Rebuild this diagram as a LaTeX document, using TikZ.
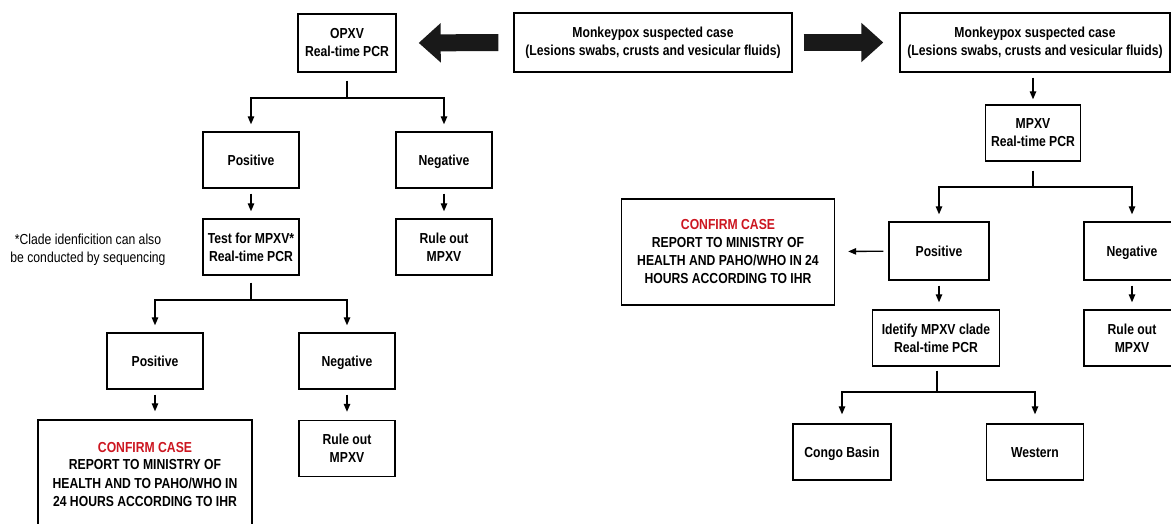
\documentclass[tikz,border=0pt]{standalone}
\usepackage{fontspec}
\setmainfont{Liberation Sans}[FakeStretch=0.84]
\usepackage{xcolor}
\usetikzlibrary{arrows.meta}
\definecolor{confirmred}{RGB}{204,22,32}
\tikzset{
  box/.style={draw, line width=1.4pt, align=center, inner sep=0pt,
    font=\fontsize{14.5}{18}\selectfont\bfseries,
    minimum width=96pt, minimum height=56pt},
  oneline/.style={text height=10pt, text depth=0pt},
  link/.style={line width=1.3pt},
  arr/.style={link, -{Triangle[length=8pt,width=6.5pt]}},
  bigarr/.style={line width=17pt, black!90,
    -{Triangle[length=22pt,width=38pt]}},
}
\begin{document}
\begin{tikzpicture}[x=1pt,y=-1pt]
            \useasboundingbox (0,0) rectangle (1171,523);
            % Suspected case, both branches
            \node[box, minimum width=278pt, minimum height=59pt] (case) at (653,42.5)
              {Monkeypox suspected case\\(Lesions swabs, crusts and vesicular fluids)};
            \node[box, minimum width=270pt, minimum height=59pt] (caseR) at (1035,42.5)
              {Monkeypox suspected case\\(Lesions swabs, crusts and vesicular fluids)};
            \node[box, minimum width=98pt, minimum height=58pt] (opxv) at (347,43)
              {OPXV\\Real-time PCR};
            % Big arrows
            \draw[bigarr, shorten <=15pt, shorten >=22pt] (case.west) -- (opxv.east);
            \draw[bigarr, shorten <=11pt, shorten >=16pt] (case.east) -- (caseR.west);
            % Left column
            \node[box, oneline] (pos1) at (251,160) {Positive};
            \node[box, oneline] (neg1) at (444,160) {Negative};
            \node[box] (test) at (251,247) {Test for MPXV*\\Real-time PCR};
            \node[box] (rule1) at (444,247) {Rule out\\MPXV};
            \node[box, oneline] (pos2) at (155,361) {Positive};
            \node[box, oneline] (neg2) at (347,361) {Negative};
            \node[box, minimum width=214pt, minimum height=108pt] (confL) at (145,474)
              {\textcolor{confirmred}{CONFIRM CASE}\\REPORT TO MINISTRY OF\\HEALTH AND TO PAHO/WHO IN\\24 HOURS ACCORDING TO IHR};
            \node[box] (rule2) at (347,448.5) {Rule out\\MPXV};
            \node[align=center, inner sep=0pt, font=\fontsize{14.5}{18}\selectfont] (note) at (88,250)
              {*Clade idenficition can also\\be conducted by sequencing};
            % Branch points
            \coordinate (b1) at (347,98);
            \coordinate (b2) at (251,300);
            \draw[link, shorten <=8pt] (opxv) -- (b1);
            \draw[arr, shorten >=7pt] (b1) -| (pos1);
            \draw[arr, shorten >=7pt] (b1) -| (neg1);
            \draw[arr, shorten <=5pt, shorten >=7pt] (pos1) -- (test);
            \draw[arr, shorten <=5pt, shorten >=7pt] (neg1) -- (rule1);
            \draw[link, shorten <=7pt] (test) -- (b2);
            \draw[arr, shorten >=7pt] (b2) -| (pos2);
            \draw[arr, shorten >=7pt] (b2) -| (neg2);
            \draw[arr, shorten <=5pt, shorten >=8pt] (pos2) -- (pos2 |- confL.north);
            \draw[arr, shorten <=5pt, shorten >=8pt] (neg2) -- (rule2);
            % Right column
            \node[box, minimum width=95pt] (mpxv) at (1033,133) {MPXV\\Real-time PCR};
            \node[box, oneline, minimum width=100pt, minimum height=58pt] (posR) at (939,251) {Positive};
            \node[box, oneline, minimum height=58pt] (negR) at (1132,251) {Negative};
            \node[box, minimum width=213pt, minimum height=106pt] (confR) at (728,252)
              {\textcolor{confirmred}{CONFIRM CASE}\\REPORT TO MINISTRY OF\\HEALTH AND PAHO/WHO IN 24\\HOURS ACCORDING TO IHR};
            \node[box, minimum width=127pt] (ident) at (936,338) {Idetify MPXV clade\\Real-time PCR};
            \node[box] (ruleR) at (1132,338) {Rule out\\MPXV};
            \node[box, oneline, minimum width=98pt] (congo) at (842,452) {Congo Basin};
            \node[box, oneline, minimum width=97pt] (west) at (1035,452) {Western};
            \coordinate (b3) at (1033,187);
            \coordinate (b4) at (937,392);
            \draw[arr, shorten <=5pt, shorten >=5pt] (caseR.south -| mpxv) -- (mpxv);
            \draw[link, shorten <=9pt] (mpxv) -- (b3);
            \draw[arr, shorten >=7pt] (b3) -| (posR);
            \draw[arr, shorten >=7pt] (b3) -| (negR);
            \draw[arr, shorten <=5pt, shorten >=13pt] (posR) -- (confR);
            \draw[arr, shorten <=5pt, shorten >=7pt] (posR) -- (posR |- ident.north);
            \draw[arr, shorten <=5pt, shorten >=7pt] (negR) -- (ruleR);
            \draw[link, shorten <=4pt] (ident.south -| b4) -- (b4);
            \draw[arr, shorten >=9pt] (b4) -| (congo);
            \draw[arr, shorten >=9pt] (b4) -| (west);
        \end{tikzpicture}
\end{document}
